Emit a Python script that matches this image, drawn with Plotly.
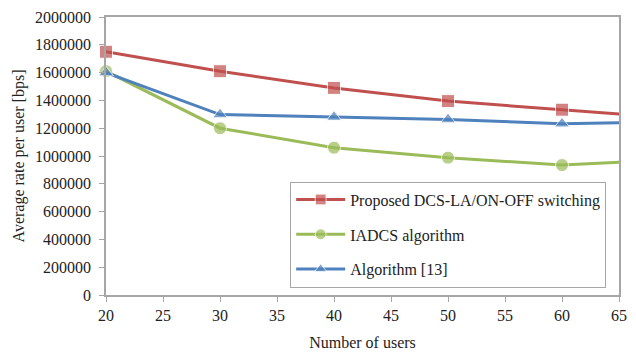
import plotly.graph_objects as go

users = [20, 30, 40, 50, 60, 70]
proposed = [1750000, 1610000, 1490000, 1395000, 1333000, 1270000]
iadcs = [1610000, 1200000, 1060000, 988000, 935000, 975000]
algo13 = [1600000, 1298000, 1280000, 1262000, 1232000, 1245000]

names = ["Proposed DCS-LA/ON-OFF switching", "IADCS algorithm", "Algorithm [13]"]
colors = ["#C0504D", "#9BBB59", "#4F81BD"]
symbols = ["square", "circle", "triangle-up"]

FONT = "Liberation Serif"
TXT = "#222222"

fig = go.Figure()
for i, (name, ys) in enumerate(zip(names, [proposed, iadcs, algo13])):
    sizes = [13] * (len(users) - 1) + [0]
    fig.add_trace(go.Scatter(
        x=users, y=ys, name=name, mode="lines+markers",
        line=dict(color=colors[i], width=3),
        marker=dict(symbol=symbols[i], size=sizes, color=colors[i]),
        cliponaxis=False, legendgroup=str(i),
    ))

fig.update_layout(
    width=636, height=358,
    margin=dict(l=106, r=9, t=14, b=62),
    paper_bgcolor="white", plot_bgcolor="white",
    font=dict(family=FONT, size=16, color=TXT),
    showlegend=True,
    legend=dict(
        x=0.359, y=0.408, xanchor="left", yanchor="top",
        bordercolor="#A6A6A6", borderwidth=1, bgcolor="white",
        font=dict(family=FONT, size=16, color=TXT),
        tracegroupgap=11, traceorder="grouped",
        itemwidth=49, entrywidth=309,
    ),
)
fig.update_xaxes(
    range=[20, 65], tickmode="linear", tick0=20, dtick=5,
    tickfont=dict(family=FONT, size=16, color=TXT),
    showgrid=False, zeroline=False,
    showline=True, linecolor="#A6A6A6", linewidth=1.5, mirror=True,
    ticks="outside", ticklen=5, tickcolor="#A6A6A6",
    title=dict(text="Number of users", standoff=14, font=dict(family=FONT, size=16, color=TXT)),
)
fig.update_yaxes(
    range=[0, 2000000], tickmode="linear", tick0=0, dtick=200000,
    tickformat="d", ticklabelstandoff=5,
    tickfont=dict(family=FONT, size=16, color=TXT),
    showgrid=False, zeroline=False,
    showline=True, linecolor="#A6A6A6", linewidth=1.5, mirror=True,
    ticks="outside", ticklen=5, tickcolor="#A6A6A6",
    title=dict(text="Average rate per user [bps]", standoff=6, font=dict(family=FONT, size=16, color=TXT)),
)

fig.write_html("out.html", config={"displayModeBar": False},
               post_script="document.body.style.margin='0px';")
